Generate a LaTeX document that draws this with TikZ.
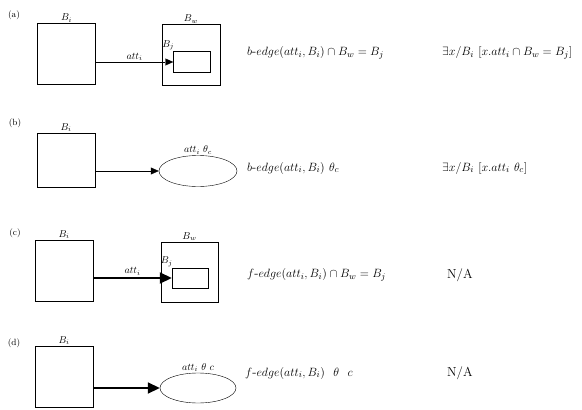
\documentclass[tikz,border=0pt]{standalone}
\usepackage{amsmath,amssymb}
\usepackage{tikz}
\usetikzlibrary{arrows.meta, positioning, shapes.geometric}
\tikzset{
blk/.style={draw, thin, minimum width=58pt, minimum height=61pt, inner sep=0pt},
inblk/.style={draw, thin, minimum width=37pt, minimum height=21pt, inner sep=0pt},
loopy/.style={draw, thin, ellipse, minimum width=78pt, minimum height=31pt, inner sep=0pt},
bedge/.style={-{Triangle[length=8pt,width=7pt]}, thin},
fedge/.style={-{Triangle[length=12pt,width=11pt]}, line width=1.8pt},
tag/.style={font=\small, inner sep=0pt},
lbl/.style={font=\normalsize, inner sep=1pt},
frm/.style={font=\fontsize{13}{15}\selectfont, anchor=west, inner sep=0pt}}

\begin{document}
\begin{tikzpicture}[x=1pt,y=-1pt]
\useasboundingbox (0,0) rectangle (582,410);
% (a)
\node[tag] (ta) at (14,15) {(a)};
\node[blk] (srcA) at (66.5,54) {};
\node[blk] (tgtA) at (191,55) {};
\node[inblk] (inA) at (192,62) {};
\node[lbl,above=0pt of srcA] (srcAl) {$B_i$};
\node[lbl,above=0pt of tgtA] (tgtAl) {$B_w$};
\node[lbl,above left=0pt and -2pt of inA.north west] (inAl) {$B_j$};
\draw[bedge] (srcA.east |- inA.west) -- (inA.west) node[lbl,midway,above] {$att_i$};
\node[frm] (fa) at (247,53) {$b\text{-}edge(att_i, B_i) \cap B_w = B_j$};
\node[frm] (ga) at (442,53) {$\exists x/B_i\ [x.att_i \cap B_w = B_j]$};
% (b)
\node[tag] (tb) at (15,123) {(b)};
\node[blk,minimum height=54pt] (srcB) at (66,160) {};
\node[loopy] (ellB) at (198,171) {};
\node[lbl,above=0pt of srcB] (srcBl) {$B_i$};
\node[lbl,above=0pt of ellB] (ellBl) {$att_i\ \theta_c$};
\draw[bedge] (srcB.east |- ellB.west) -- (ellB.west);
\node[frm] (fb) at (247,168) {$b\text{-}edge(att_i, B_i)\ \theta_c$};
\node[frm] (gb) at (442,168) {$\exists x/B_i\ [x.att_i\ \theta_c]$};
% (c)
\node[tag] (tc) at (15,233) {(c)};
\node[blk] (srcC) at (64,270.5) {};
\node[blk,minimum width=57pt,minimum height=60pt] (tgtC) at (189.5,272) {};
\node[inblk,minimum width=36pt,minimum height=20pt] (inC) at (190,278) {};
\node[lbl,above=0pt of srcC] (srcCl) {$B_i$};
\node[lbl,above=0pt of tgtC] (tgtCl) {$B_w$};
\node[lbl,above left=0pt and -2pt of inC.north west] (inCl) {$B_j$};
\draw[fedge] (srcC.east |- inC.west) -- (inC.west) node[lbl,midway,above=1pt] {$att_i$};
\node[frm] (fc) at (247,275) {$f\text{-}edge(att_i, B_i) \cap B_w = B_j$};
\node[frm] (gc) at (447,275) {N/A};
% (d)
\node[tag] (td) at (14,343) {(d)};
\node[blk] (srcD) at (64,376.5) {};
\node[loopy,minimum width=76pt,minimum height=30pt] (ellD) at (198,388) {};
\node[lbl,above=0pt of srcD] (srcDl) {$B_i$};
\node[lbl,above=0pt of ellD] (ellDl) {$att_i\ \theta\ c$};
\draw[fedge] (srcD.east |- ellD.west) -- (ellD.west);
\node[frm] (fd) at (245,373) {$f\text{-}edge(att_i, B_i)\ \ \theta\ \ c$};
\node[frm] (gd) at (447,373) {N/A};
\end{tikzpicture}
\end{document}
